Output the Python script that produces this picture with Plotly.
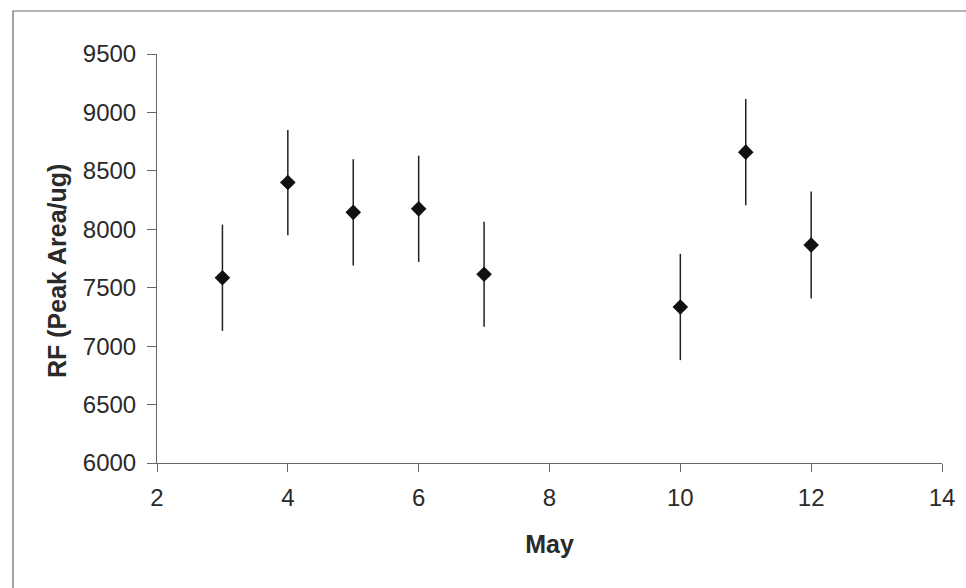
import plotly.graph_objects as go

days = [3, 4, 5, 6, 7, 10, 11, 12]
rf = [7585, 8400, 8145, 8175, 7615, 7335, 8660, 7865]
rf_err = [455, 450, 455, 455, 450, 455, 455, 458]

x_ticks = [2, 4, 6, 8, 10, 12, 14]
y_ticks = [6000, 6500, 7000, 7500, 8000, 8500, 9000, 9500]

W, H = 966, 588
ml, mr, mt, mb = 157, 24, 54, 125
pw, ph = W - ml - mr, H - mt - mb

fig = go.Figure()
fig.add_trace(go.Scatter(
    x=days, y=rf, mode="markers",
    marker=dict(symbol="diamond", size=12, color="#111111"),
    error_y=dict(type="data", array=rf_err, visible=True, width=0,
                 thickness=1.5, color="#222222"),
    showlegend=False,
))

font = "Liberation Sans, Arial, sans-serif"
fig.update_layout(
    width=W, height=H,
    margin=dict(l=ml, r=mr, t=mt, b=mb),
    paper_bgcolor="white", plot_bgcolor="white",
    font=dict(family=font, size=24, color="#2a2a2a"),
    xaxis=dict(range=[2, 14], tickvals=x_ticks, ticks="outside", ticklen=8,
               tickcolor="#666666", showline=True, linecolor="#666666",
               linewidth=1, showgrid=False, zeroline=False,
               ticklabelstandoff=5,
               tickfont=dict(size=24, color="#2a2a2a"),
               title=dict(text="<b>May</b>", font=dict(size=25), standoff=25)),
    yaxis=dict(range=[6000, 9500], tickvals=y_ticks, ticks="outside", ticklen=9,
               tickcolor="#666666", showline=True, linecolor="#666666",
               linewidth=1, showgrid=False, zeroline=False,
               ticklabelstandoff=6,
               tickfont=dict(size=24, color="#2a2a2a")),
)

# y-axis title placed as annotation (slightly below plot centre, as in reference)
fig.add_annotation(text="<b>RF (Peak Area/ug)</b>", textangle=-90,
                   xref="paper", yref="paper",
                   x=(57 - ml) / pw, y=(H - mb - 271) / ph,
                   xanchor="center", yanchor="middle", showarrow=False,
                   font=dict(size=25, color="#2a2a2a"))

# outer chart border
x0 = (13 - ml) / pw
y1 = (H - mb - 11) / ph
fig.add_shape(type="rect", xref="paper", yref="paper",
              x0=x0, x1=1.2, y0=-0.5, y1=y1,
              line=dict(color="#666666", width=1.2), layer="below")

fig.write_html("out.html")
